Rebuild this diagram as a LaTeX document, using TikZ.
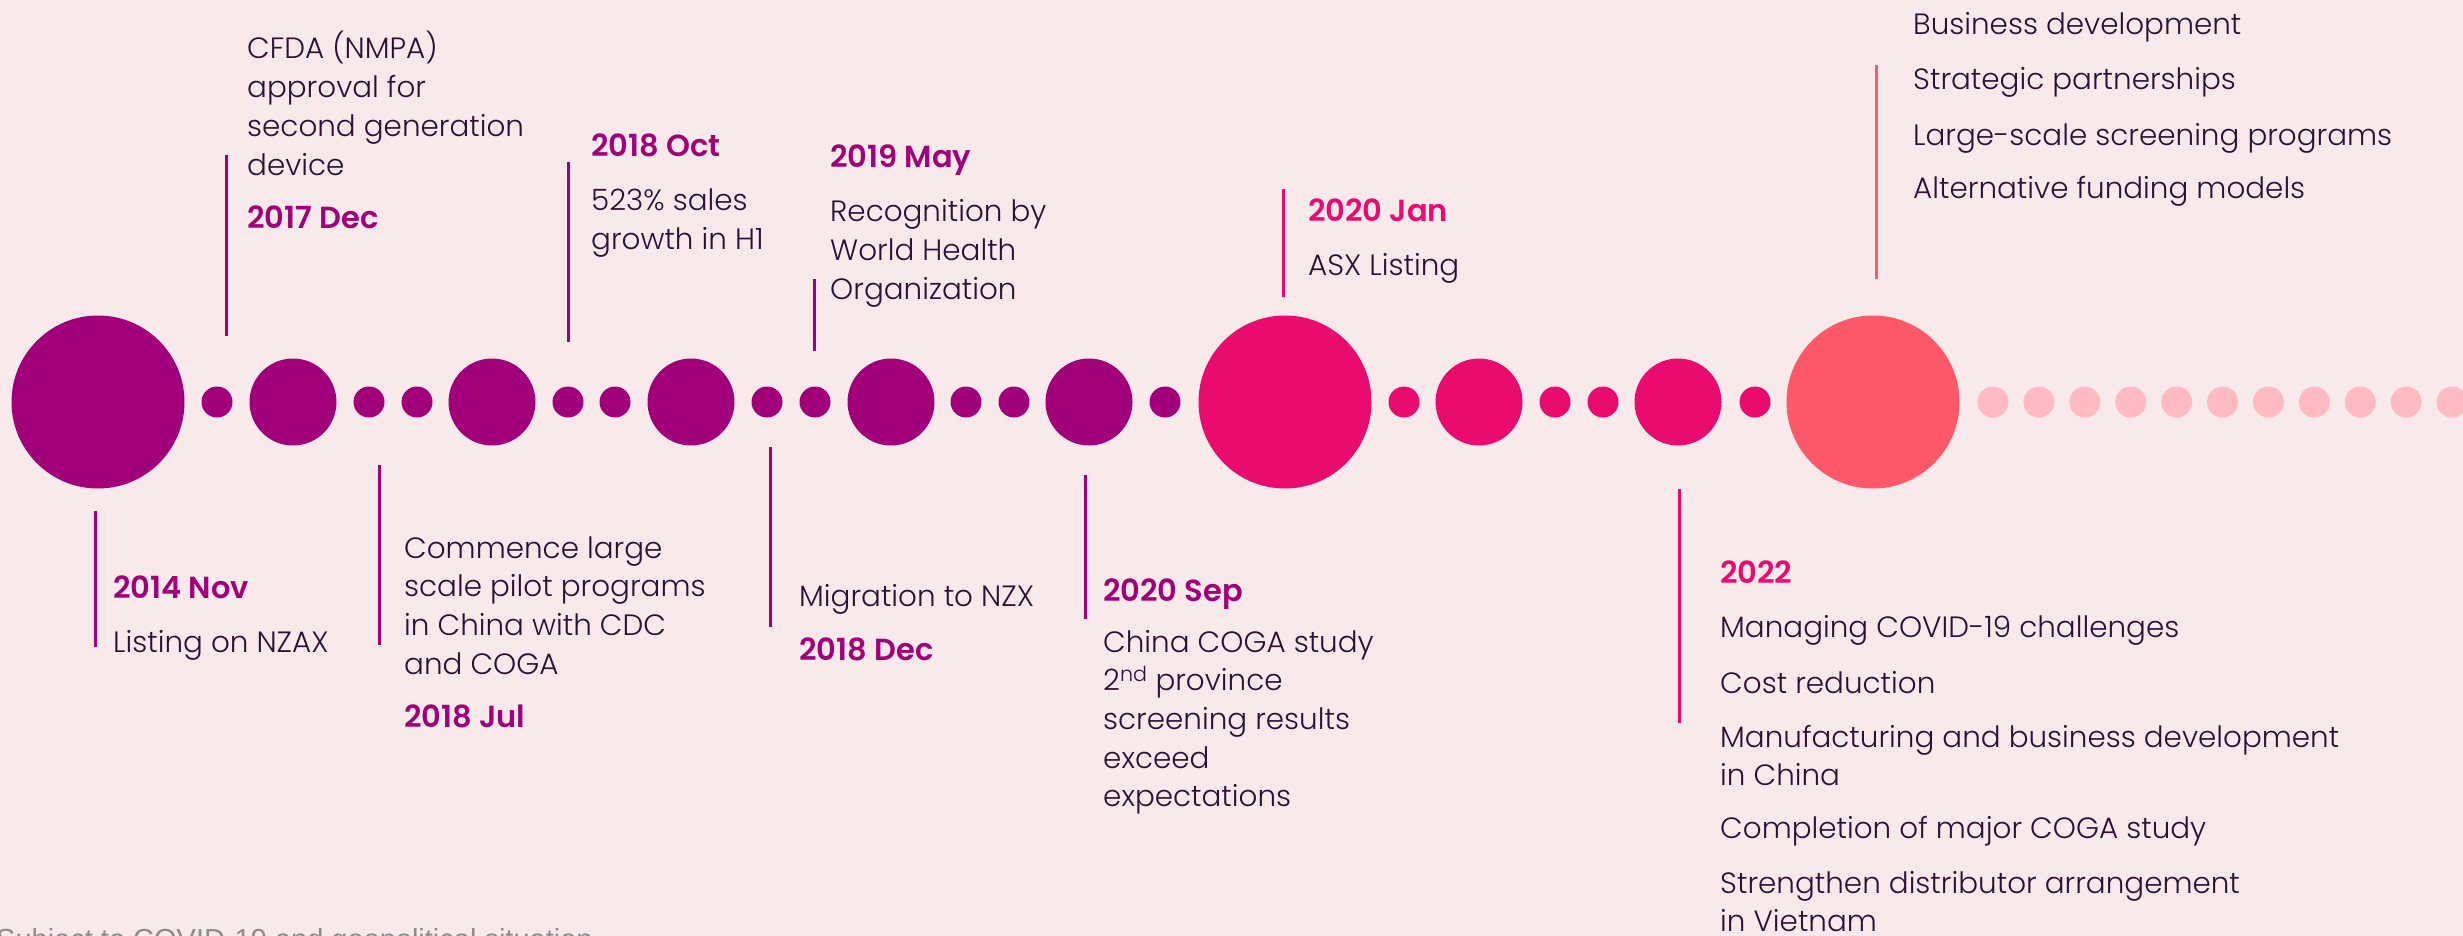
\documentclass[tikz,border=0pt]{standalone}
\usepackage{fontspec}
\setmainfont{Poppins}[UprightFont=* Light, BoldFont=* SemiBold]
\newfontfamily\notefont{Liberation Sans}
\definecolor{bg}{HTML}{F8EAEA}
\definecolor{plum}{HTML}{A1007A}
\definecolor{rose}{HTML}{E90B6E}
\definecolor{coral}{HTML}{FF5869}
\definecolor{blush}{HTML}{FFBAC2}
\definecolor{ink}{HTML}{2E0F36}
\definecolor{note}{HTML}{8C8C8C}
\newcommand\lns[1]{\begin{tabular}[t]{@{}l@{}}#1\end{tabular}}
\begin{document}
\begin{tikzpicture}[x=1pt,y=-1pt,
  dot/.style={circle, inner sep=0pt, minimum size=31pt, fill=#1},
  mid/.style={circle, inner sep=0pt, minimum size=87pt, fill=#1},
  big/.style={circle, inner sep=0pt, minimum size=173pt, fill=#1},
  body/.style={anchor=base west, inner sep=0pt, text=ink, font=\fontsize{29.4}{38.7}\selectfont},
  date/.style={anchor=base west, inner sep=0pt, text=#1, font=\fontsize{30.5}{38.7}\selectfont\bfseries},
  tick/.style={line width=3pt, draw=#1}]
\useasboundingbox[fill=bg] (0,0) rectangle (2463,936);

% timeline circles
\node[big=plum] (c2014) at (98,402) {};
\node[dot=plum] (p1) at (217,402) {};
\node[mid=plum] (c2017) at (293,402) {};
\node[dot=plum] (p2) at (369,402) {};
\node[dot=plum] (p3) at (417,402) {};
\node[mid=plum] (c2018a) at (492,402) {};
\node[dot=plum] (p4) at (568,402) {};
\node[dot=plum] (p5) at (615,402) {};
\node[mid=plum] (c2018b) at (691,402) {};
\node[dot=plum] (p6) at (767,402) {};
\node[dot=plum] (p7) at (815,402) {};
\node[mid=plum] (c2018c) at (891,402) {};
\node[dot=plum] (p8) at (966,402) {};
\node[dot=plum] (p9) at (1014,402) {};
\node[mid=plum] (c2019) at (1089,402) {};
\node[dot=plum] (p10) at (1165,402) {};
\node[big=rose] (c2020) at (1285,402) {};
\node[dot=rose] (r1) at (1404,402) {};
\node[mid=rose] (c2020b) at (1479,402) {};
\node[dot=rose] (r2) at (1555,402) {};
\node[dot=rose] (r3) at (1603,402) {};
\node[mid=rose] (c2022) at (1678,402) {};
\node[dot=rose] (r4) at (1755,402) {};
\node[big=coral] (cnext) at (1873,402) {};
\foreach \i in {0,...,10}
  \node[dot=blush] (f\i) at ({1993+45.9*\i},402) {};

% tick lines above the timeline
\coordinate (a1t) at (226.5,155);  \coordinate (a1b) at (226.5,336);
\coordinate (a2t) at (568.5,162);  \coordinate (a2b) at (568.5,342);
\coordinate (a3t) at (814.5,279);  \coordinate (a3b) at (814.5,351);
\coordinate (a4t) at (1283,189);   \coordinate (a4b) at (1283,297);
\coordinate (a5t) at (1876.5,65);  \coordinate (a5b) at (1876.5,279);
\draw[tick=plum] (a1t) -- (a1b);
\draw[tick=plum] (a2t) -- (a2b);
\draw[tick=plum] (a3t) -- (a3b);
\draw[tick=rose] (a4t) -- (a4b);
\draw[tick=coral] (a5t) -- (a5b);

% tick lines below the timeline
\coordinate (b1t) at (95,511);     \coordinate (b1b) at (95,647);
\coordinate (b2t) at (379,465);    \coordinate (b2b) at (379,645);
\coordinate (b3t) at (770,447);    \coordinate (b3b) at (770,627);
\coordinate (b4t) at (1085,475);   \coordinate (b4b) at (1085,619);
\coordinate (b5t) at (1679.5,489); \coordinate (b5b) at (1679.5,723);
\draw[tick=plum] (b1t) -- (b1b);
\draw[tick=plum] (b2t) -- (b2b);
\draw[tick=plum] (b3t) -- (b3b);
\draw[tick=plum] (b4t) -- (b4b);
\draw[tick=rose] (b5t) -- (b5b);

% events above
\node[body] (t2017) at (247,59) {\lns{CFDA (NMPA)\\approval for\\second generation\\device}};
\node[date=plum] (d2017) at (247,229) {2017 Dec};
\node[date=plum] (d2018o) at (591,157) {2018 Oct};
\node[body] (t2018o) at (591,211) {\lns{523\% sales\\growth in H1}};
\node[date=plum] (d2019) at (830,168) {2019 May};
\node[body] (t2019) at (830,222) {\lns{Recognition by\\World Health\\Organization}};
\node[date=rose] (d2020j) at (1308,222) {2020 Jan};
\node[body] (t2020j) at (1308,275) {ASX Listing};
\node[body] (n1) at (1913,35) {Business development};
\node[body] (n2) at (1913,90) {Strategic partnerships};
\node[body] (n3) at (1913,146) {Large-scale screening programs};
\node[body] (n4) at (1913,199) {Alternative funding models};

% events below
\node[date=plum] (d2014) at (113,598) {2014 Nov};
\node[body] (t2014) at (113,652) {Listing on NZAX};
\node[body] (t2018j) at (404,558) {\lns{Commence large\\scale pilot programs\\in China with CDC\\and COGA}};
\node[date=plum] (d2018j) at (404,727) {2018 Jul};
\node[body] (t2018d) at (799,606) {Migration to NZX};
\node[date=plum] (d2018d) at (799,660) {2018 Dec};
\node[date=plum] (d2020s) at (1103,601) {2020 Sep};
\node[body] (t2020s) at (1103,652) {\lns{China COGA study\\2\textsuperscript{nd} province\\screening results\\exceed\\expectations}};
\node[date=rose] (d2022) at (1720,583) {2022};
\node[body] (m1) at (1720,637) {Managing COVID-19 challenges};
\node[body] (m2) at (1720,693) {Cost reduction};
\node[body] (m3) at (1720,747) {\lns{Manufacturing and business development\\in China}};
\node[body] (m4) at (1720,838) {Completion of major COGA study};
\node[body] (m5) at (1720,893) {\lns{Strengthen distributor arrangement\\in Vietnam}};

% footnote
\node[anchor=base west, inner sep=0pt, text=note, font=\notefont\fontsize{29}{33}\selectfont] (fn) at (-4,949) {Subject to COVID-19 and geopolitical situation};
\end{tikzpicture}
\end{document}
